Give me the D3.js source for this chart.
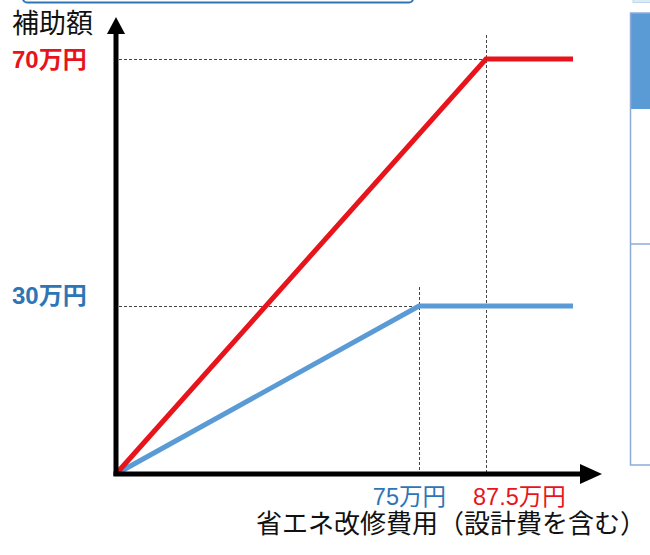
<!DOCTYPE html>
<html>
<head>
<meta charset="utf-8">
<script src="https://cdn.jsdelivr.net/npm/d3@7"></script>
<style>
  html, body { margin: 0; padding: 0; background: #fff; }
  svg { display: block; }
  text { font-family: "Liberation Sans", "Noto Sans CJK JP", sans-serif; }
</style>
</head>
<body>
<svg id="chart"></svg>
<script>
const width = 650;
const height = 555;

// data
const costBreaks = [0, 75, 87.5, 100];          // 改修費用 (万円)
const redCost = [0, 87.5, 100];
const redAid = [0, 70, 70];
const blueCost = [0, 75, 100];
const blueAid = [0, 30, 30];
const yTickValues = [70, 30];
const yTickLabels = ["70万円", "30万円"];
const xTickValues = [75, 87.5];
const xTickLabels = ["75万円", "87.5万円"];
const yTitle = "補助額";
const xTitle = "省エネ改修費用（設計費を含む）";

const RED = "#e8141c";
const BLUE_LINE = "#5b9bd5";
const BLUE_TEXT = "#2e75b6";

const svg = d3.select("#chart")
  .attr("width", width)
  .attr("height", height);

// the drawing is not to scale, so both scales are piecewise
const x = d3.scaleLinear()
  .domain(costBreaks)
  .range([116, 419, 486, 573]);

const y = d3.scaleLinear()
  .domain([0, 30, 70])
  .range([474, 306, 59]);

// bits of the surrounding slide
svg.append("rect")
  .attr("x", 23).attr("y", -20)
  .attr("width", 390).attr("height", 22.5)
  .attr("rx", 4)
  .attr("fill", "#fff")
  .attr("stroke", "#2e75b6")
  .attr("stroke-width", 2);
svg.append("rect")
  .attr("x", 633).attr("y", -10)
  .attr("width", 30).attr("height", 12.5)
  .attr("fill", "#ddebf7")
  .attr("stroke", "#bdd7ee");
svg.append("rect")
  .attr("x", 630.5).attr("y", 13)
  .attr("width", 30).attr("height", 96)
  .attr("fill", "#5b9bd5");
svg.append("rect")
  .attr("x", 630.5).attr("y", 13)
  .attr("width", 30).attr("height", 452)
  .attr("fill", "none")
  .attr("stroke", "#8eaadb")
  .attr("stroke-width", 1.5);
svg.append("line")
  .attr("x1", 630.5).attr("x2", 660)
  .attr("y1", 244).attr("y2", 244)
  .attr("stroke", "#8eaadb")
  .attr("stroke-width", 1.5);

// dashed guides (half-pixel offset keeps them crisp)
const guides = svg.append("g")
  .attr("stroke", "#444")
  .attr("stroke-width", 1)
  .attr("stroke-dasharray", "3,2")
  .attr("fill", "none");

guides.append("line")
  .attr("x1", x(0) + 3).attr("x2", x(87.5))
  .attr("y1", y(70) + 0.5).attr("y2", y(70) + 0.5);
guides.append("line")
  .attr("x1", x(87.5) + 0.5).attr("x2", x(87.5) + 0.5)
  .attr("y1", 35).attr("y2", y(0));
guides.append("line")
  .attr("x1", x(0) + 3).attr("x2", x(75))
  .attr("y1", y(30) + 0.5).attr("y2", y(30) + 0.5);
guides.append("line")
  .attr("x1", x(75) + 0.5).attr("x2", x(75) + 0.5)
  .attr("y1", 287).attr("y2", y(0));

// series
const line = d3.line()
  .x(d => x(d[0]))
  .y(d => y(d[1]));

svg.append("path")
  .datum(d3.zip(blueCost, blueAid))
  .attr("d", line)
  .attr("fill", "none")
  .attr("stroke", BLUE_LINE)
  .attr("stroke-width", 5);

svg.append("path")
  .datum(d3.zip(redCost, redAid))
  .attr("d", line)
  .attr("fill", "none")
  .attr("stroke", RED)
  .attr("stroke-width", 5);

// axes with arrow heads
const ox = x(0), oy = y(0);
svg.append("line")
  .attr("x1", ox).attr("x2", ox)
  .attr("y1", oy + 2).attr("y2", 30)
  .attr("stroke", "#000").attr("stroke-width", 5);
svg.append("polygon")
  .attr("points", `${ox},17 ${ox - 9},34 ${ox + 9},34`)
  .attr("fill", "#000");

svg.append("line")
  .attr("x1", ox - 2.5).attr("x2", 590)
  .attr("y1", oy).attr("y2", oy)
  .attr("stroke", "#000").attr("stroke-width", 5);
svg.append("polygon")
  .attr("points", `602,${oy} 580,${oy - 10} 580,${oy + 10}`)
  .attr("fill", "#000");

// y labels
const yLabelShift = [0, -11];
svg.selectAll(".ylab")
  .data(yTickValues)
  .enter()
  .append("text")
  .attr("class", "ylab")
  .attr("x", 12)
  .attr("y", (d, i) => y(d) + yLabelShift[i])
  .attr("dy", "0.36em")
  .attr("font-size", 24)
  .attr("font-weight", "bold")
  .attr("fill", (d, i) => i === 0 ? RED : BLUE_TEXT)
  .text((d, i) => yTickLabels[i]);

// x labels
svg.append("text")
  .attr("x", x(xTickValues[0]) + 27)
  .attr("y", 505)
  .attr("text-anchor", "end")
  .attr("font-size", 23.5)
  .attr("fill", BLUE_TEXT)
  .text(xTickLabels[0]);
svg.append("text")
  .attr("x", x(xTickValues[1]) - 13)
  .attr("y", 505)
  .attr("font-size", 23.5)
  .attr("fill", RED)
  .text(xTickLabels[1]);

// axis titles
svg.append("text")
  .attr("x", 12)
  .attr("y", 33)
  .attr("font-size", 27)
  .attr("fill", "#111")
  .text(yTitle);
svg.append("text")
  .attr("x", 646)
  .attr("y", 533)
  .attr("text-anchor", "end")
  .attr("font-size", 26)
  .attr("fill", "#111")
  .text(xTitle);
</script>
</body>
</html>
